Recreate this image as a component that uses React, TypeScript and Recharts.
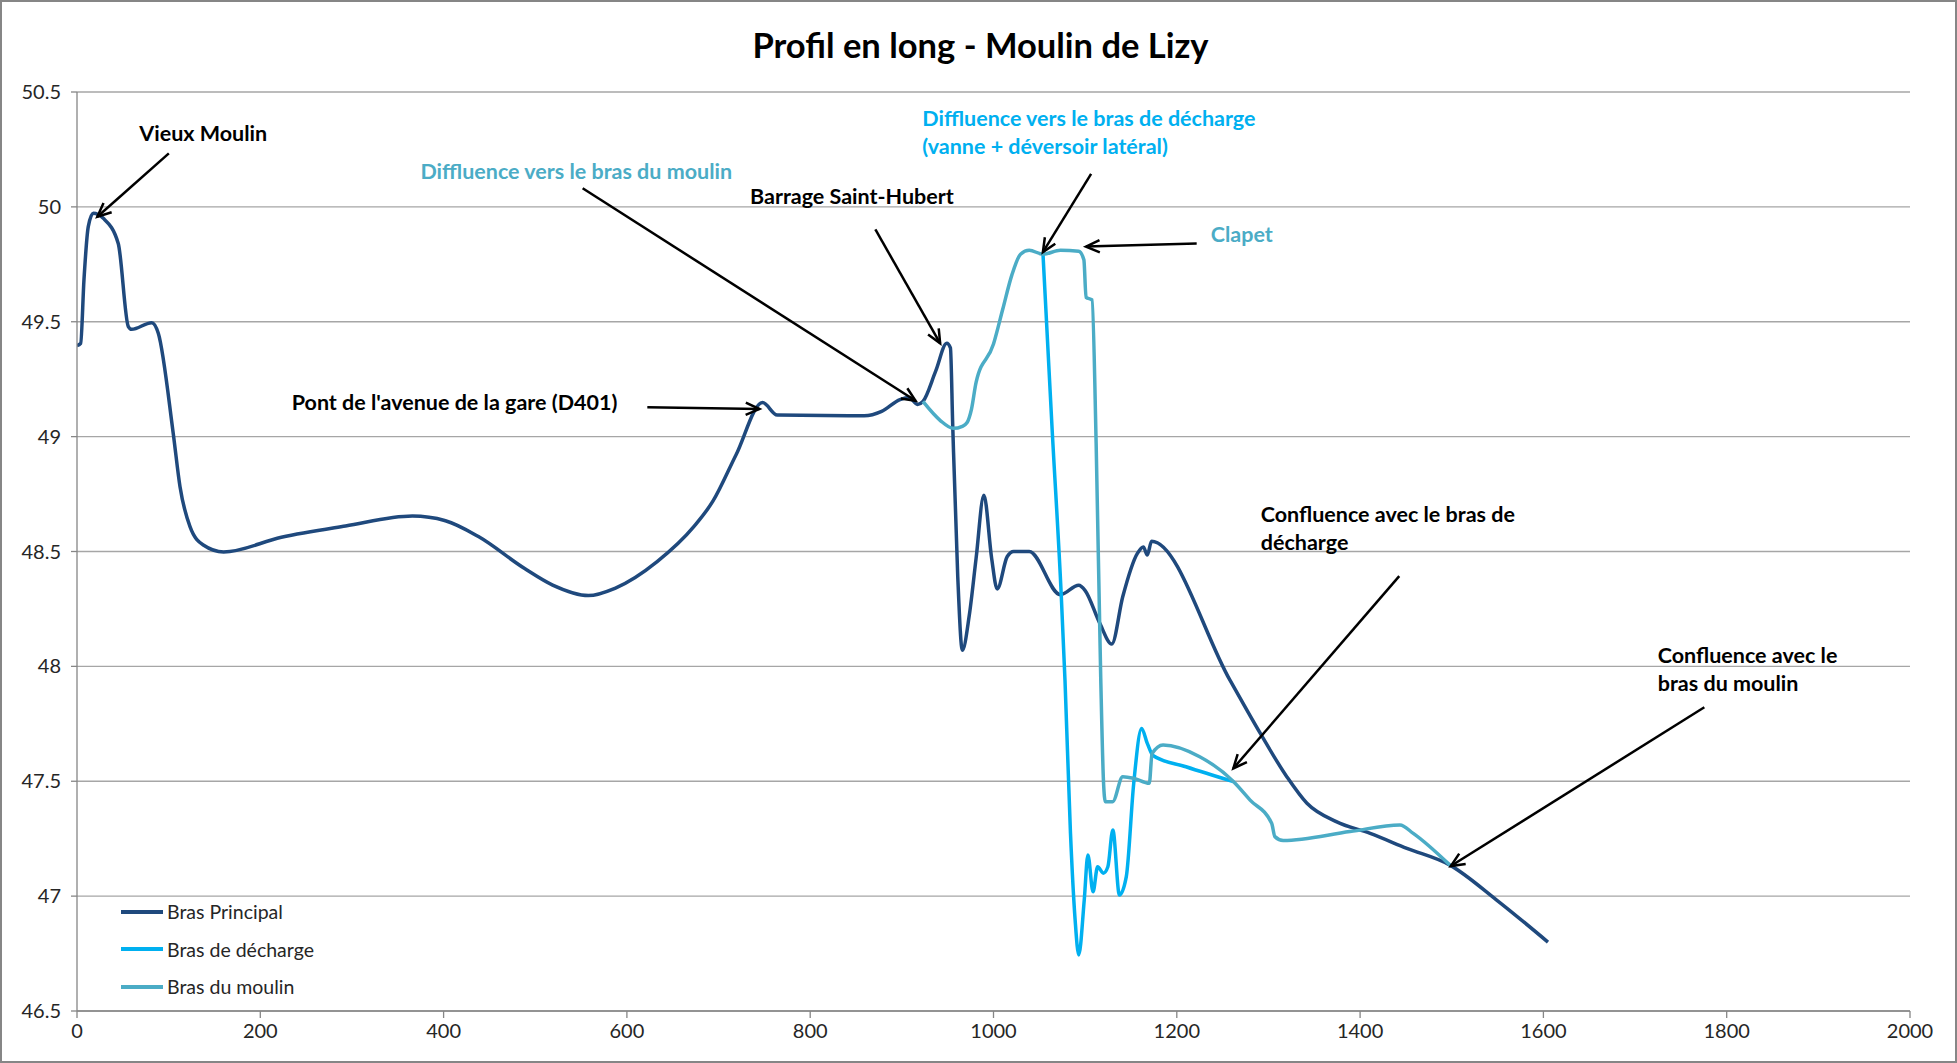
import { LineChart, Line, XAxis, YAxis, CartesianGrid, Legend, ReferenceLine, ReferenceDot } from 'recharts'

// [distance (m), cote (m)]
const brasPrincipal: [number, number][] = [
  [0, 49.396], [4, 49.406], [7.6, 49.682], [12.3, 49.914], [17.8, 49.972], [28.7, 49.95], [45, 49.841],
  [56, 49.479], [59.6, 49.467], [81.5, 49.496], [88.7, 49.45], [105, 49.014], [112.4, 48.782], [123.3, 48.608],
  [137.8, 48.528], [160, 48.498], [223, 48.562], [293, 48.611], [366, 48.654], [402, 48.634], [438, 48.565],
  [488, 48.427], [519, 48.354], [558, 48.308], [587, 48.34], [633, 48.456], [673, 48.608], [694, 48.72],
  [719, 48.92], [748, 49.148], [764, 49.094], [859, 49.091], [878, 49.11], [898, 49.161],
  [908, 49.17], [917, 49.14], [923, 49.153], [937, 49.286], [949, 49.406], [953, 49.386], [955.5, 49.05],
  [961, 48.39], [966, 48.07], [973.5, 48.22], [981, 48.47], [989.5, 48.745], [998, 48.47], [1004, 48.337],
  [1015, 48.478], [1022, 48.5], [1039, 48.5], [1073, 48.312], [1093, 48.353], [1100, 48.33], [1116, 48.187],
  [1129, 48.097], [1141, 48.303], [1157, 48.492], [1163.5, 48.52], [1167.8, 48.485], [1172.5, 48.545],
  [1258, 47.94], [1291, 47.709], [1320, 47.52], [1342, 47.404], [1374, 47.324], [1411, 47.273],
  [1451, 47.208], [1498, 47.135], [1549, 46.983], [1605, 46.8],
]

const brasDecharge: [number, number][] = [
  [1054, 49.794], [1064, 49.03], [1074, 48.303], [1078, 47.94], [1084, 47.273], [1089, 46.9], [1093, 46.744],
  [1099, 46.983], [1103, 47.179], [1108.6, 47.019], [1113.6, 47.128], [1119.8, 47.1], [1124.8, 47.128],
  [1130.2, 47.288], [1137.4, 47.005], [1144.9, 47.085], [1153, 47.491], [1161.6, 47.73], [1167.8, 47.665],
  [1174, 47.612], [1210, 47.563], [1262, 47.498],
]

const brasMoulin: [number, number][] = [
  [923, 49.153], [942, 49.07], [956, 49.036], [966, 49.045], [971, 49.06], [976, 49.12], [981, 49.236],
  [1000, 49.403], [1010, 49.553], [1020, 49.703], [1029.5, 49.794], [1039, 49.811], [1054, 49.794],
  [1073, 49.811], [1093, 49.807], [1098.6, 49.77], [1101, 49.606], [1107.5, 49.595], [1112, 48.97],
  [1117, 47.95], [1120, 47.5], [1122, 47.411], [1130, 47.411], [1141, 47.52], [1153, 47.513], [1170, 47.491],
  [1173, 47.62], [1185, 47.658], [1225, 47.607], [1262, 47.498], [1280, 47.418], [1303.5, 47.317],
  [1307, 47.259], [1316, 47.242], [1389, 47.281], [1443.5, 47.31], [1458, 47.273], [1498, 47.135],
]

const seriesNames = ['Bras Principal', 'Bras de décharge', 'Bras du moulin']
const seriesColors = ['#1f497d', '#00b0f0', '#4bacc6']

const xTicks = [0, 200, 400, 600, 800, 1000, 1200, 1400, 1600, 1800, 2000]
const yTicks = [46.5, 47, 47.5, 48, 48.5, 49, 49.5, 50, 50.5]

// annotation texts: left x, centre y of first line (data units)
const labels = [
  { x: 68, y: 50.321, lines: ['Vieux Moulin'], color: '#000' },
  { x: 374.7, y: 50.158, lines: ['Diffluence vers le bras du moulin'], color: '#4bacc6' },
  { x: 734.3, y: 50.049, lines: ['Barrage Saint-Hubert'], color: '#000' },
  { x: 234.3, y: 49.152, lines: ["Pont de l'avenue de la gare (D401)"], color: '#000' },
  { x: 922.3, y: 50.386, lines: ['Diffluence vers le bras de décharge', '(vanne + déversoir latéral)'], color: '#00b0f0' },
  { x: 1237, y: 49.88, lines: ['Clapet'], color: '#4bacc6' },
  { x: 1291.6, y: 48.663, lines: ['Confluence avec le bras de', 'décharge'], color: '#000' },
  { x: 1724.8, y: 48.049, lines: ['Confluence avec le', 'bras du moulin'], color: '#000' },
]

// arrows: from -> to (data units)
const arrows = [
  [100.2, 50.233, 22.2, 49.957],
  [551.7, 50.081, 915, 49.156],
  [871.1, 49.902, 941.8, 49.406],
  [622.3, 49.128, 744.6, 49.12],
  [1106.5, 50.144, 1053.9, 49.803],
  [1221.7, 49.841, 1100.9, 49.827],
  [1442.7, 48.393, 1261.7, 47.556],
  [1775.6, 47.822, 1499, 47.131],
]

const toPoints = (s: [number, number][]) => s.map(([x, y]) => ({ x, y }))
const seriesData = [toPoints(brasPrincipal), toPoints(brasDecharge), toPoints(brasMoulin)]

const FONT = 'Lato, "Open Sans", sans-serif'

const Arrow = (p: any) => {
  const { x1, y1, x2, y2 } = p
  const a = Math.atan2(y2 - y1, x2 - x1)
  const len = 15
  const sp = 0.42
  const ax = x2 - len * Math.cos(a - sp)
  const ay = y2 - len * Math.sin(a - sp)
  const bx = x2 - len * Math.cos(a + sp)
  const by = y2 - len * Math.sin(a + sp)
  return (
    <g>
      <line x1={x1} y1={y1} x2={x2} y2={y2} stroke="#000" strokeWidth={2.5} />
      <polyline points={`${ax},${ay} ${x2},${y2} ${bx},${by}`} fill="none" stroke="#000" strokeWidth={2.5} />
    </g>
  )
}

const makeText = (lines: string[], color: string) => (p: any) => (
  <text x={p.cx} y={p.cy} fill={color} fontFamily={FONT} fontWeight={700} fontSize={21.5} dominantBaseline="central">
    {lines.map((l, i) => (
      <tspan key={i} x={p.cx} dy={i === 0 ? 0 : 28}>
        {l}
      </tspan>
    ))}
  </text>
)

const LegendBox = () => (
  <div style={{ fontFamily: FONT, fontSize: 19.5, color: '#262626' }}>
    {seriesNames.map((n, i) => (
      <div key={n} style={{ display: 'flex', alignItems: 'center', height: 37.5 }}>
        <div style={{ width: 42, height: 4, background: seriesColors[i], marginRight: 4 }} />
        <span>{n}</span>
      </div>
    ))}
  </div>
)

export default function App() {
  return (
    <div
      style={{
        position: 'absolute',
        left: 0,
        top: 0,
        width: 1957,
        height: 1063,
        background: '#fff',
        boxSizing: 'border-box',
        border: '2px solid #868686',
      }}
    >
      <div
        style={{
          position: 'absolute',
          left: 0,
          width: 1957,
          top: 22,
          textAlign: 'center',
          fontFamily: FONT,
          fontWeight: 700,
          fontSize: 34.5,
          color: '#000',
        }}
      >
        Profil en long - Moulin de Lizy
      </div>
      <div style={{ position: 'absolute', left: -2, top: -2 }}>
        <LineChart width={1957} height={1063} margin={{ top: 92, right: 47, bottom: 0, left: 0 }}>
          <CartesianGrid vertical={false} stroke="#a6a6a6" strokeWidth={1.3} />
          <XAxis
            type="number"
            dataKey="x"
            domain={[0, 2000]}
            ticks={xTicks}
            height={52}
            tickSize={7}
            tickMargin={6}
            stroke="#868686"
            strokeWidth={1.3}
            tick={{ fill: '#262626', fontSize: 20, fontFamily: FONT }}
            allowDataOverflow
          />
          <YAxis
            type="number"
            dataKey="y"
            domain={[46.5, 50.5]}
            ticks={yTicks}
            width={77}
            tickSize={6}
            tickMargin={10}
            stroke="#868686"
            strokeWidth={1.3}
            tick={{ fill: '#262626', fontSize: 20, fontFamily: FONT }}
            allowDataOverflow
          />
          {seriesData.map((d, i) => (
            <Line
              key={seriesNames[i]}
              data={d}
              dataKey="y"
              name={seriesNames[i]}
              type="monotone"
              stroke={seriesColors[i]}
              strokeWidth={3.5}
              dot={false}
              activeDot={false}
              isAnimationActive={false}
            />
          ))}
          {arrows.map((a, i) => (
            <ReferenceLine
              key={'a' + i}
              segment={[
                { x: a[0], y: a[1] },
                { x: a[2], y: a[3] },
              ]}
              shape={Arrow}
              ifOverflow="visible"
            />
          ))}
          {labels.map((l, i) => (
            <ReferenceDot key={'l' + i} x={l.x} y={l.y} r={1} ifOverflow="visible" shape={makeText(l.lines, l.color)} />
          ))}
          <Legend
            layout="vertical"
            align="center"
            verticalAlign="middle"
            content={<LegendBox />}
            wrapperStyle={{ left: 121, top: 893, width: 300 }}
          />
        </LineChart>
      </div>
    </div>
  )
}
